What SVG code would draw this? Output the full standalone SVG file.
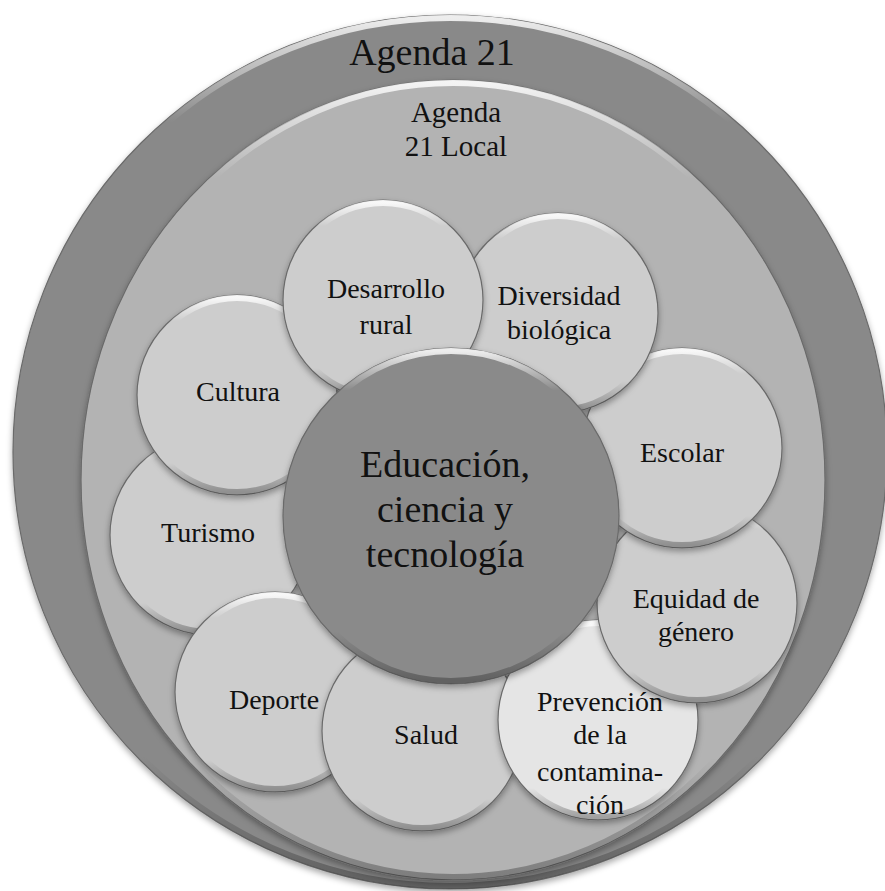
<svg xmlns="http://www.w3.org/2000/svg" width="885" height="891" viewBox="0 0 885 891">
  <defs>
    <filter id="shadow" x="-10%" y="-10%" width="120%" height="125%">
      <feDropShadow dx="0" dy="3" stdDeviation="3" flood-color="#000" flood-opacity="0.35"/>
    </filter>
    <linearGradient id="bevel" x1="0" y1="0" x2="0" y2="1">
      <stop offset="0" stop-color="#fff" stop-opacity="0.85"/>
      <stop offset="0.12" stop-color="#fff" stop-opacity="0"/>
      <stop offset="0.85" stop-color="#000" stop-opacity="0"/>
      <stop offset="1" stop-color="#000" stop-opacity="0.3"/>
    </linearGradient>
  </defs>
  <style>
    text { font-family: "Liberation Serif", "Times New Roman", serif; fill: #111; text-anchor: middle; }
    .shape { stroke: #6a6a6a; stroke-width: 1.2; filter: url(#shadow); }
    .bev { fill: none; stroke: url(#bevel); stroke-width: 6; }
    .outer { fill: #898989; }
    .inner { fill: #b3b3b3; }
    .petal { fill: #cdcdcd; }
    .light { fill: #e5e5e5; }
    .hub { fill: #8a8a8a; }
    .t38 { font-size: 38px; }
    .t29 { font-size: 29px; }
    .t28 { font-size: 28px; }
  </style>
  <rect width="885" height="891" fill="#fff"/>

  <g id="agenda21">
    <circle class="shape outer" cx="450" cy="452" r="437"/>
    <circle class="bev" cx="450" cy="452" r="434"/>
    <text class="t38" x="432" y="65">Agenda 21</text>
  </g>

  <g id="agenda21local">
    <ellipse class="shape inner" cx="453" cy="480" rx="372" ry="400"/>
    <ellipse class="bev" cx="453" cy="480" rx="369" ry="397"/>
    <text class="t29" x="456" y="122">Agenda</text>
    <text class="t29" x="456" y="156">21 Local</text>
  </g>

  <g id="connectors"></g>

  <g id="turismo">
    <circle class="shape petal" cx="210" cy="535" r="100"/>
    <circle class="bev" cx="210" cy="535" r="97"/>
    <text class="t28" x="208" y="542">Turismo</text>
  </g>
  <g id="cultura">
    <circle class="shape petal" cx="237" cy="395" r="100"/>
    <circle class="bev" cx="237" cy="395" r="97"/>
    <text class="t28" x="238" y="401">Cultura</text>
  </g>
  <g id="deporte">
    <circle class="shape petal" cx="275" cy="692" r="100"/>
    <circle class="bev" cx="275" cy="692" r="97"/>
    <text class="t28" x="274" y="709">Deporte</text>
  </g>
  <g id="salud">
    <circle class="shape petal" cx="422" cy="731" r="100"/>
    <circle class="bev" cx="422" cy="731" r="97"/>
    <text class="t28" x="426" y="744">Salud</text>
  </g>
  <g id="prevencion">
    <circle class="shape light" cx="598" cy="720" r="100"/>
    <circle class="bev" cx="598" cy="720" r="97"/>
    <text class="t28" x="600" y="711">Prevención</text>
    <text class="t28" x="600" y="744">de la</text>
    <text class="t28" x="600" y="781">contamina-</text>
    <text class="t28" x="600" y="814">ción</text>
  </g>
  <g id="equidad">
    <circle class="shape petal" cx="697" cy="603" r="100"/>
    <circle class="bev" cx="697" cy="603" r="97"/>
    <text class="t28" x="696" y="608">Equidad de</text>
    <text class="t28" x="696" y="641">género</text>
  </g>
  <g id="escolar">
    <circle class="shape petal" cx="682" cy="448" r="100"/>
    <circle class="bev" cx="682" cy="448" r="97"/>
    <text class="t28" x="682" y="462">Escolar</text>
  </g>
  <g id="diversidad">
    <circle class="shape petal" cx="558" cy="313" r="100"/>
    <circle class="bev" cx="558" cy="313" r="97"/>
    <text class="t28" x="559" y="305">Diversidad</text>
    <text class="t28" x="559" y="339">biológica</text>
  </g>
  <g id="desarrollo">
    <circle class="shape petal" cx="383" cy="300" r="100"/>
    <circle class="bev" cx="383" cy="300" r="97"/>
    <text class="t28" x="386" y="298">Desarrollo</text>
    <text class="t28" x="386" y="334">rural</text>
  </g>

  <g id="educacion">
    <circle class="shape hub" cx="451" cy="516" r="168"/>
    <circle class="bev" cx="451" cy="516" r="165"/>
    <text class="t38" x="445" y="477">Educación,</text>
    <text class="t38" x="445" y="522">ciencia y</text>
    <text class="t38" x="445" y="567">tecnología</text>
  </g>
</svg>
